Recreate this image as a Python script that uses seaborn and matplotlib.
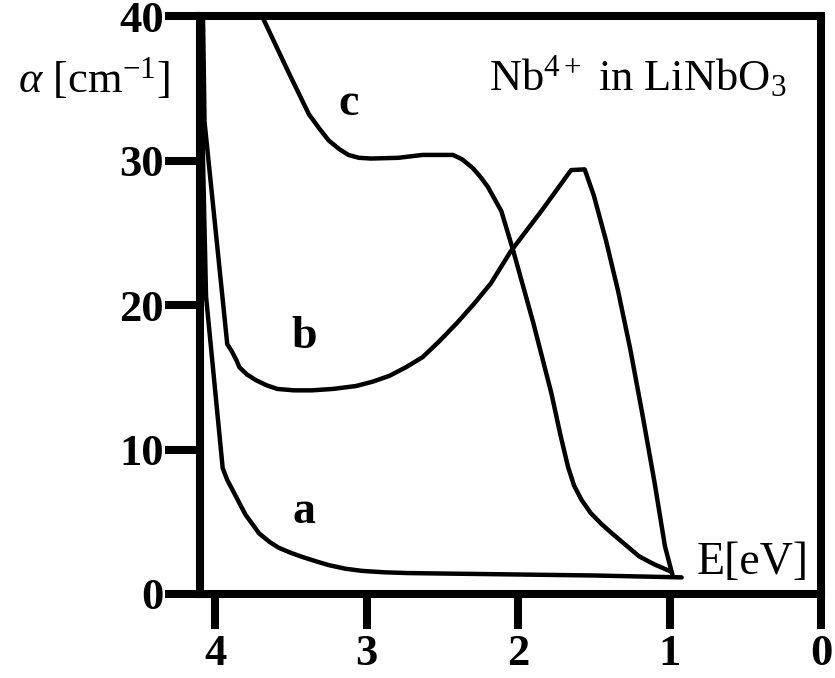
import pandas as pd
import matplotlib.pyplot as plt
import seaborn as sns

# Absorption of Nb4+ in LiNbO3
# photon energy E [eV] and absorption coefficient alpha [cm^-1]
energy_a = [4.09, 4.08, 4.06, 3.95, 3.92, 3.88, 3.80, 3.71, 3.64, 3.58, 3.50, 3.42, 3.33,
            3.25, 3.14, 3.03, 2.88, 2.73, 2.52, 2.00, 1.49, 0.92]
alpha_a = [40.0, 30.0, 20.6, 8.7, 7.9, 7.1, 5.5, 4.2, 3.6, 3.2, 2.85, 2.55, 2.25,
           2.0, 1.75, 1.6, 1.5, 1.45, 1.42, 1.35, 1.28, 1.15]

energy_b = [4.08, 4.07, 3.92, 3.89, 3.86, 3.84, 3.79, 3.73, 3.66, 3.59, 3.48, 3.36, 3.22,
            3.07, 2.96, 2.85, 2.74, 2.63, 2.52, 2.40, 2.29, 2.18, 2.05, 1.84, 1.65,
            1.56, 1.50, 1.42, 1.34, 1.26, 1.18, 1.10, 1.03, 0.98]
alpha_b = [40.0, 32.7, 17.3, 16.8, 16.2, 15.7, 15.2, 14.8, 14.45, 14.2, 14.1, 14.1, 14.2,
           14.4, 14.7, 15.1, 15.7, 16.4, 17.5, 18.8, 20.1, 21.5, 23.7, 26.6, 29.35,
           29.4, 27.6, 24.5, 21.0, 17.0, 12.5, 7.8, 3.3, 1.3]

energy_c = [3.69, 3.51, 3.38, 3.31, 3.25, 3.18, 3.12, 3.05, 2.97, 2.79, 2.63, 2.43, 2.37,
            2.30, 2.25, 2.20, 2.11, 2.03, 1.90, 1.78, 1.72, 1.67, 1.63, 1.58, 1.52, 1.45,
            1.38, 1.29, 1.20, 1.10, 0.99]
alpha_c = [40.0, 36.0, 33.2, 32.2, 31.4, 30.8, 30.4, 30.2, 30.15, 30.2, 30.4, 30.4, 30.1,
           29.5, 28.9, 28.2, 26.5, 23.7, 18.8, 13.9, 11.0, 8.8, 7.5, 6.5, 5.6, 4.85,
           4.2, 3.4, 2.6, 2.05, 1.55]

x_ticks = [4, 3, 2, 1, 0]
y_ticks = [0, 10, 20, 30, 40]

# curve labels and where they sit
curve_names = ['a', 'b', 'c']
label_x = [3.41, 3.41, 3.12]
label_y = [5.7, 17.8, 33.9]

df = pd.concat([
    pd.DataFrame({'E': energy_a, 'alpha': alpha_a, 'curve': 'a'}),
    pd.DataFrame({'E': energy_b, 'alpha': alpha_b, 'curve': 'b'}),
    pd.DataFrame({'E': energy_c, 'alpha': alpha_c, 'curve': 'c'}),
], ignore_index=True)

sns.set_style('white')
plt.rcParams['font.family'] = ['Liberation Serif', 'DejaVu Serif']
plt.rcParams['mathtext.fontset'] = 'custom'
plt.rcParams['mathtext.rm'] = 'Liberation Serif'
plt.rcParams['mathtext.it'] = 'Liberation Serif:italic'
plt.rcParams['mathtext.bf'] = 'Liberation Serif:bold'
plt.rcParams['text.color'] = 'black'
plt.rcParams['xtick.color'] = 'black'
plt.rcParams['ytick.color'] = 'black'

fig = plt.figure(figsize=(8.35, 6.78), dpi=100)
ax = fig.add_axes([0.2395, 0.1239, 0.7437, 0.8521])

sns.lineplot(data=df, x='E', y='alpha', hue='curve', estimator=None, sort=False,
             palette=['black'] * 3, linewidth=3.2, legend=False, ax=ax)
for line in ax.get_lines():
    line.set_solid_joinstyle('round')

ax.set_xlim(4.1, 0)
ax.set_ylim(0, 40)
ax.set_xticks(x_ticks)
ax.set_yticks(y_ticks)
ax.set_xticklabels([str(t) for t in x_ticks], fontsize=32, fontweight='bold')
ax.set_yticklabels([str(t) for t in y_ticks], fontsize=32, fontweight='bold')
ax.set_xlabel('')
ax.set_ylabel('')

for side in ['left', 'right', 'top', 'bottom']:
    ax.spines[side].set_visible(True)
    ax.spines[side].set_linewidth(5.8)
    ax.spines[side].set_color('black')

ax.tick_params(axis='x', direction='out', length=25, width=5.8, pad=4, bottom=True, top=False,
               colors='black')
ax.tick_params(axis='y', direction='out', length=25, width=5.8, pad=1, left=True, right=False,
               colors='black')

for name, lx, ly in zip(curve_names, label_x, label_y):
    ax.text(lx, ly, name, fontsize=33, fontweight='bold', ha='center', va='center', color='black')

ax.text(0.82, 0.7, 'E[eV]', fontsize=33, ha='left', va='bottom', color='black')
ax.text(0.705, 0.896, r'Nb$^{4+}$ in LiNbO$_3$', fontsize=32, ha='center', va='center',
        transform=ax.transAxes, color='black')
fig.text(170 / 835, 1 - 78 / 678, r'$\alpha$ [cm$^{\mathregular{-1}}$]', fontsize=32,
         ha='right', va='center', color='black')

plt.savefig('out.png', dpi=100)
